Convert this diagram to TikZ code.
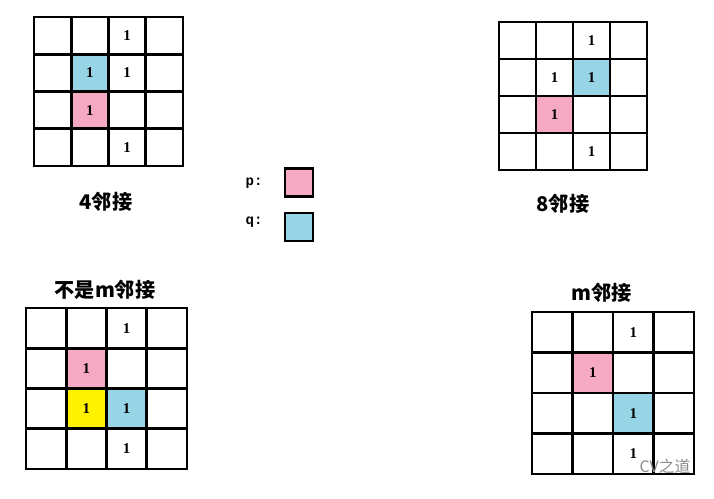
\documentclass[tikz,border=0pt]{standalone}
\usepackage{fontspec}
\setmainfont{Liberation Serif}
\newfontfamily\cjk{Noto Sans CJK SC}
\newfontfamily\monofont{Liberation Mono}
\usetikzlibrary{positioning}
\definecolor{ppink}{HTML}{F6A9C3}
\definecolor{qblue}{HTML}{97D4E6}
\definecolor{myellow}{HTML}{FFF200}
\newcommand{\pixgrid}% 4x4 grid inside a scope
{\foreach \k in {1,2,3}{
   \draw[gridline] (\k,0) -- (\k,4);
   \draw[gridline] (0,\k) -- (4,\k);
 }
 \draw[gridline] (0,0) rectangle (4,4);
}

\begin{document}
\begin{tikzpicture}[x=0.02cm,y=-0.02cm]
\tikzstyle{gridline}=[line width=1.6pt,line cap=rect,line join=miter]
\tikzstyle{one}=[font=\fontsize{8.5}{10}\selectfont\bfseries,inner sep=0pt]
\tikzstyle{title}=[font=\cjk\bfseries\fontsize{11.5}{13}\selectfont,inner sep=0pt]
\tikzstyle{legend}=[draw,line width=1.2pt,minimum size=0.56cm,inner sep=0pt]
\useasboundingbox (0,0) rectangle (714,498);

\begin{scope}[shift={(34,17)},scale=37.25] % 4 adjacency
\fill[qblue] (1,1) rectangle (2,2);
\fill[ppink] (1,2) rectangle (2,3);
\pixgrid
\node[one] (a1) at (2.5,0.5) {1};
\node[one] (aq) at (1.5,1.5) {1};
\node[one] (a2) at (2.5,1.5) {1};
\node[one] (ap) at (1.5,2.5) {1};
\node[one] (a3) at (2.5,3.5) {1};
\end{scope}
\node[title] (fourlab) at (106,202) {4邻接};

\begin{scope}[shift={(499,22)},scale=37] % 8 adjacency
\fill[qblue] (2,1) rectangle (3,2);
\fill[ppink] (1,2) rectangle (2,3);
\pixgrid
\node[one] (b1) at (2.5,0.5) {1};
\node[one] (b2) at (1.5,1.5) {1};
\node[one] (bq) at (2.5,1.5) {1};
\node[one] (bp) at (1.5,2.5) {1};
\node[one] (b3) at (2.5,3.5) {1};
\end{scope}
\node[title] (eightlab) at (563,204) {8邻接};

% legend p and q
\node[legend,fill=ppink] (pbox) at (299,182.5) {};
\node[legend,fill=qblue] (qbox) at (299,227) {};
\node[font=\monofont\bfseries\fontsize{8}{9}\selectfont] (plab) at (254,183) {p:};
\node[font=\monofont\bfseries\fontsize{8}{9}\selectfont] (qlab) at (254,222) {q:};

\node[title] (notmlab) at (105,290) {不是m邻接};
\begin{scope}[shift={(26,308)},scale=40.25] % not m adjacency
\fill[ppink] (1,1) rectangle (2,2);
\fill[myellow] (1,2) rectangle (2,3);
\fill[qblue] (2,2) rectangle (3,3);
\pixgrid
\node[one] (c1) at (2.5,0.5) {1};
\node[one] (cp) at (1.5,1.5) {1};
\node[one] (cy) at (1.5,2.5) {1};
\node[one] (cq) at (2.5,2.5) {1};
\node[one] (c3) at (2.5,3.5) {1};
\end{scope}

\node[title] (mlab) at (602,293) {m邻接};
\begin{scope}[shift={(532,312)},scale=40.5] % m adjacency
\fill[ppink] (1,1) rectangle (2,2);
\fill[qblue] (2,2) rectangle (3,3);
\pixgrid
\node[one] (d1) at (2.5,0.5) {1};
\node[one] (dp) at (1.5,1.5) {1};
\node[one] (dq) at (2.5,2.5) {1};
\node[one] (d3) at (2.5,3.5) {1};
\end{scope}
\node[font=\cjk\fontsize{9}{11}\selectfont,text=black!45,inner sep=0pt] (mark) at (665,466) {CV之道};
\end{tikzpicture}
\end{document}
